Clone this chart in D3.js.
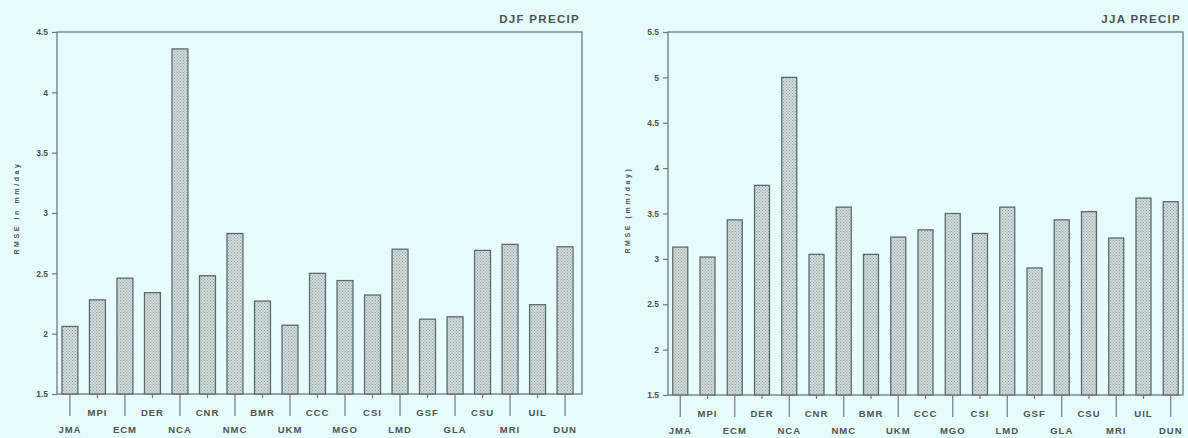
<!DOCTYPE html>
<html>
<head>
<meta charset="utf-8">
<script src="https://cdn.jsdelivr.net/npm/d3@7"></script>
<style>
  html, body { margin: 0; padding: 0; background: #e6fbfb; }
  svg { display: block; }
  text { font-family: "Liberation Sans", Arial, sans-serif; font-weight: bold; fill: #4b5555; }
</style>
</head>
<body>
<svg id="chart" width="1188" height="438"></svg>
<script>
// Model names along the x axis (shared by both seasons)
const models = ["JMA","MPI","ECM","DER","NCA","CNR","NMC","BMR","UKM","CCC",
                "MGO","CSI","LMD","GSF","GLA","CSU","MRI","UIL","DUN"];

// RMSE of precipitation, mm/day
const djfRmse = [2.06, 2.28, 2.46, 2.34, 4.36, 2.48, 2.83, 2.27, 2.07, 2.50,
                 2.44, 2.32, 2.70, 2.12, 2.14, 2.69, 2.74, 2.24, 2.72];
const jjaRmse = [3.13, 3.02, 3.43, 3.81, 5.00, 3.05, 3.57, 3.05, 3.24, 3.32,
                 3.50, 3.28, 3.57, 2.90, 3.43, 3.52, 3.23, 3.67, 3.63];

// Y tick values and their printed labels
const djfTicks = [1.5, 2, 2.5, 3, 3.5, 4, 4.5];
const djfTickLabels = ["1.5","2","2.5","3","3.5","4","4.5"];
const jjaTicks = [1.5, 2, 2.5, 3, 3.5, 4, 4.5, 5, 5.5];
const jjaTickLabels = ["1.5","2","2.5","3","3.5","4","4.5","5","5.5"];

const svg = d3.select("#chart");
const lineColor = "#6f7b7b";

// Stippled fill used for every bar
const defs = svg.append("defs");
const pat = defs.append("pattern")
  .attr("id", "stipple").attr("patternUnits", "userSpaceOnUse")
  .attr("width", 3).attr("height", 3);
pat.append("rect").attr("width", 3).attr("height", 3).attr("fill", "#cfdbdb");
pat.append("rect").attr("x", 0).attr("y", 0).attr("width", 1).attr("height", 1).attr("fill", "#97a5a5");
pat.append("rect").attr("x", 1.5).attr("y", 1.5).attr("width", 1).attr("height", 1).attr("fill", "#97a5a5");

function panel(cfg) {
  const g = svg.append("g");
  const x = d3.scaleBand().domain(models)
    .range([cfg.x0, cfg.x1 - cfg.endShift])
    .paddingInner(cfg.padIn).paddingOuter(cfg.padOut);
  const y = d3.scaleLinear().domain(cfg.domain).range([cfg.yBottom, cfg.yTop]);

  // frame
  g.append("rect")
    .attr("x", cfg.x0).attr("y", cfg.yTop)
    .attr("width", cfg.x1 - cfg.x0).attr("height", cfg.yBottom - cfg.yTop)
    .attr("fill", "none").attr("stroke", lineColor).attr("stroke-width", 1.3);

  // bars
  g.selectAll("rect.bar").data(cfg.values).join("rect")
    .attr("class", "bar")
    .attr("x", (d, i) => x(models[i]))
    .attr("width", x.bandwidth())
    .attr("y", d => y(d))
    .attr("height", d => y(cfg.domain[0]) - y(d))
    .attr("fill", "url(#stipple)")
    .attr("stroke", "#5f6b6b").attr("stroke-width", 1.3);

  // y axis
  const yAxis = d3.axisLeft(y).tickValues(cfg.ticks)
    .tickFormat((d, i) => cfg.tickLabels[i]).tickSize(5).tickPadding(4);
  const ya = g.append("g").attr("transform", `translate(${cfg.x0},0)`).call(yAxis);
  ya.select(".domain").remove();
  ya.selectAll("line").attr("stroke", lineColor).attr("stroke-width", 1.2);
  ya.selectAll("text").style("font-size", "8.5px").attr("fill", "#4b5555");

  // x axis: alternating short and long ticks with two label rows
  const xa = g.append("g").attr("transform", `translate(0,${cfg.yBottom})`);
  models.forEach((m, i) => {
    const cx = x(m) + x.bandwidth() / 2;
    const lower = i % 2 === 0;
    xa.append("line")
      .attr("x1", cx).attr("x2", cx).attr("y1", 0).attr("y2", lower ? 22 : 4)
      .attr("stroke", lineColor).attr("stroke-width", 1.2);
    xa.append("text")
      .attr("x", cx).attr("y", lower ? 38.5 : 21.5)
      .attr("text-anchor", "middle").style("font-size", "9.5px")
      .style("letter-spacing", "1px")
      .text(m);
  });

  // y axis title
  g.append("text")
    .attr("transform", `translate(${cfg.labelX},${cfg.labelY}) rotate(-90)`)
    .attr("text-anchor", "middle").style("font-size", "7px")
    .style("letter-spacing", "2.6px")
    .text(cfg.yLabel);

  // panel title
  g.append("text")
    .attr("x", cfg.x1 - 2).attr("y", 23)
    .attr("text-anchor", "end").style("font-size", "11.5px")
    .style("letter-spacing", "1.3px")
    .attr("fill", "#555f5f")
    .text(cfg.title);
}

panel({
  title: "DJF PRECIP", yLabel: "RMSE in mm/day",
  values: djfRmse, ticks: djfTicks, tickLabels: djfTickLabels,
  domain: [1.5, 4.5], x0: 57, x1: 582, yTop: 32, yBottom: 394,
  endShift: 4, padIn: 0.42, padOut: 0.18,
  labelX: 19, labelY: 208
});

panel({
  title: "JJA PRECIP", yLabel: "RMSE (mm/day)",
  values: jjaRmse, ticks: jjaTicks, tickLabels: jjaTickLabels,
  domain: [1.5, 5.5], x0: 668, x1: 1183, yTop: 32, yBottom: 395,
  endShift: 0, padIn: 0.45, padOut: 0.175,
  labelX: 630, labelY: 210
});
</script>
</body>
</html>
